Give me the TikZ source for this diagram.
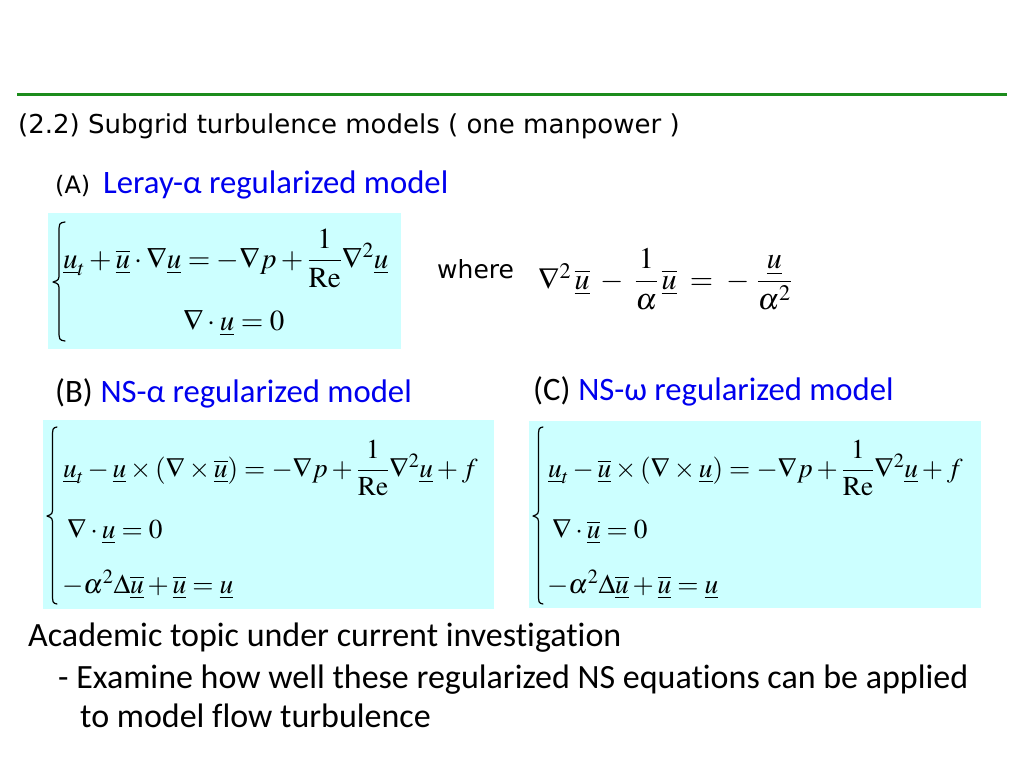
\documentclass[tikz,border=0pt]{standalone}
\usepackage{amsmath}
\usepackage{mathptmx}
\usepackage[no-math]{fontspec}
\newfontfamily\dvs{DejaVu Sans}
\newfontfamily\crl[Ligatures=NoCommon]{Carlito}
\definecolor{boxcyan}{RGB}{204,255,255}
\definecolor{ttlgreen}{RGB}{28,140,28}
\definecolor{hblue}{RGB}{0,0,238}
\newcommand{\uu}{\underline{u}}
\newcommand{\ub}{\overline{\underline{u}}}
% brace: tip x, stem x, hook x, top y, mid y, bottom y
\newcommand{\mybrace}[6]{%
  \draw[bracepen] (#3,#4) .. controls (#2,#4+1) .. (#2,#4+12)
    -- (#2,#5-9) .. controls (#2,#5-2) .. (#1,#5)
    .. controls (#2,#5+2) .. (#2,#5+9)
    -- (#2,#6-12) .. controls (#2,#6-1) .. (#3,#6);}
\begin{document}
\begin{tikzpicture}[x=1pt,y=-1pt,
  txt/.style={inner sep=0pt, anchor=base west},
  eqbox/.style={fill=boxcyan, draw=none},
  bracepen/.style={draw=black, line width=1.2pt, line cap=round, line join=round},
  ttl/.style={txt, font=\dvs\fontsize{26}{31}\selectfont},
  hd/.style={txt, font=\crl\fontsize{32.7}{38}\selectfont},
  body/.style={txt, font=\crl\fontsize{34}{40}\selectfont},
  eqa/.style={txt, font=\fontsize{29}{34}\selectfont},
  eq/.style={txt, font=\fontsize{27.3}{32}\selectfont}]
\useasboundingbox (0,0) rectangle (1024,768);
\fill[white] (0,0) rectangle (1024,768);
\coordinate (gl) at (17,94);
\coordinate (gr) at (1007,94);
\draw[ttlgreen, line width=3pt] (gl) -- (gr);
\node[ttl] (title) at (18,133) {(2.2) Subgrid turbulence models ( one manpower )};
% (A)
\node[txt, font=\dvs\fontsize{24}{29}\selectfont] (alab) at (55,193) {(A)};
\node[hd, text=hblue] (ahead) at (103,193) {Leray-α regularized model};
\fill[eqbox] (48,213) rectangle (401,349);
\mybrace{53}{59}{65}{222}{282}{341}
\node[eqa] (a1) at (63,268) {$\uu_t+\ub\cdot\nabla\uu=-\nabla p+\dfrac{1}{\mathrm{Re}}\nabla^2\uu$};
\node[eqa] (a2) at (183,330) {$\nabla\cdot\uu=0$};
\node[txt, font=\dvs\fontsize{25}{30}\selectfont] (where) at (437,278) {where};
\node[txt, font=\fontsize{30}{36}\selectfont] (w1) at (538,289) {$\nabla^{2}\,\ub\;-\;\dfrac{1}{\alpha}\,\ub\;=\;-\;\dfrac{\uu}{\alpha^{2}}$};
% (B)
\node[hd] (blab) at (55,402) {(B)};
\node[hd, text=hblue, anchor=base west] (bhead) at (blab.base east) {\ NS-α regularized model};
\fill[eqbox] (43,420) rectangle (494,609);
\mybrace{47}{52.5}{57}{427}{516}{604}
\node[eq] (b1) at (63,477) {$\uu_t-\uu\times(\nabla\times\ub)=-\nabla p+\dfrac{1}{\mathrm{Re}}\nabla^2\uu+f$};
\node[eq] (b2) at (67,538) {$\nabla\cdot\uu=0$};
\node[eq] (b3) at (62,593) {$-\alpha^2\Delta\ub+\ub=\uu$};
% (C)
\node[hd] (clab) at (533,400) {(C)};
\node[hd, text=hblue, anchor=base west] (chead) at (clab.base east) {\ NS-ω regularized model};
\fill[eqbox] (529,421) rectangle (981,608);
\mybrace{533}{538.5}{543}{427}{516}{604}
\node[eq] (c1) at (548,477) {$\uu_t-\ub\times(\nabla\times\uu)=-\nabla p+\dfrac{1}{\mathrm{Re}}\nabla^2\uu+f$};
\node[eq] (c2) at (552,538) {$\nabla\cdot\ub=0$};
\node[eq] (c3) at (547,593) {$-\alpha^2\Delta\ub+\ub=\uu$};
% bottom text
\node[body] (t1) at (28,646) {Academic topic under current investigation};
\node[body] (t2) at (58,688) {- Examine how well these regularized NS equations can be applied};
\node[body] (t3) at (80,727) {to model flow turbulence};
\end{tikzpicture}
\end{document}
